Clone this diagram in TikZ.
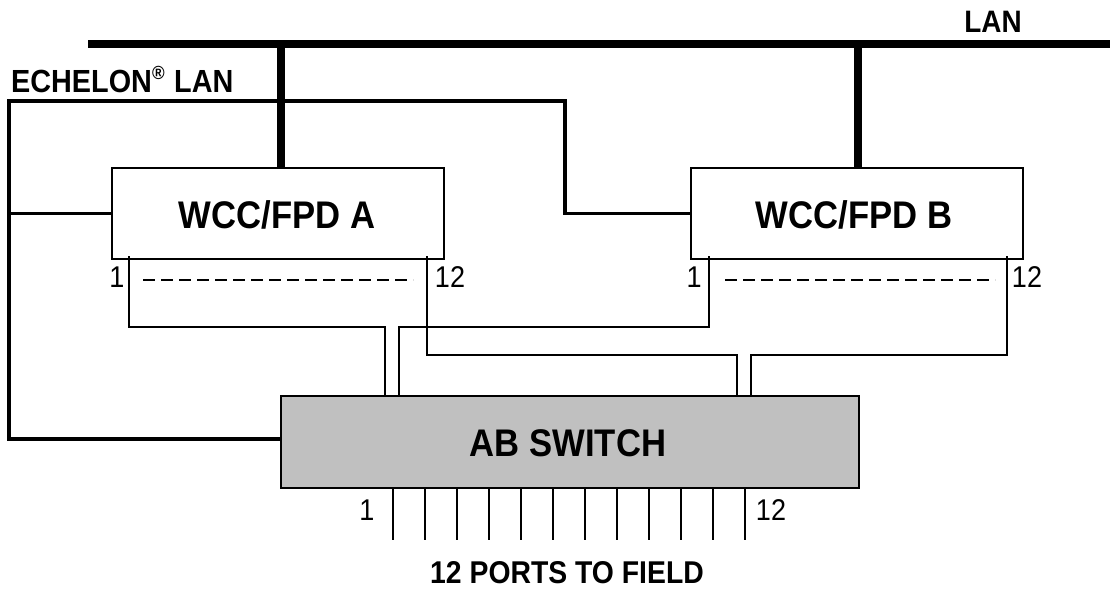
\documentclass[tikz,border=0pt]{standalone}
\usepackage{fontspec}
\setmainfont{Liberation Sans}[FakeStretch=0.9]
\definecolor{swgray}{HTML}{C0C0C0}
\begin{document}
\begin{tikzpicture}[x=1pt,y=-1pt,
  box/.style={draw,line width=2.5pt,rectangle,inner sep=0pt},
  lan/.style={line width=8pt},
  ech/.style={line width=3.5pt},
  port/.style={line width=2pt},
  big/.style={font=\fontsize{38.5}{40}\selectfont\bfseries,anchor=base,inner sep=0pt},
  med/.style={font=\fontsize{31}{32}\selectfont\bfseries,anchor=base,inner sep=0pt},
  num/.style={font=\fontsize{30}{32}\selectfont,anchor=base,inner sep=0pt}]
\useasboundingbox (0,0) rectangle (1110,589);
% boxes
\node[box,minimum width=332pt,minimum height=91pt] (boxA) at (278,213.5) {};
\node[box,minimum width=332pt,minimum height=91pt] (boxB) at (857,213.5) {};
\node[box,fill=swgray,minimum width=578pt,minimum height=92pt] (sw) at (570,442) {};
\node[big] (tA) at (277,228) {WCC/FPD A};
\node[big] (tB) at (854,228) {WCC/FPD B};
\node[big] (tS) at (568,456) {AB SWITCH};
% LAN bus
\coordinate (busL) at (88,44);
\coordinate (busR) at (1110,44);
\coordinate (tapA) at (281,44);
\coordinate (tapB) at (858,44);
\draw[lan] (busL) -- (busR);
\draw[lan] (tapA) -- (tapA |- boxA.north);
\draw[lan] (tapB) -- (tapB |- boxB.north);
\node[med] (lanlbl) at (993,32) {LAN};
% Echelon LAN
\node[med,anchor=base west,font=\fontsize{32}{33}\selectfont\bfseries] (echlbl) at (11,92) {ECHELON\raisebox{0.4em}{\fontsize{19}{19}\selectfont\bfseries ®}\hspace{0.3em}LAN};
\coordinate (eTop) at (9,101);
\draw[ech,line join=miter] (boxB.west) -| (565,101) -| (9,439) -- (sw.west |- 0,439);
\draw[ech] (boxA.west) -- (boxA.west -| eTop);
% port wiring
\coordinate (pA1) at (129,256);
\coordinate (pA12) at (427,256);
\coordinate (pB1) at (709,256);
\coordinate (pB12) at (1007,256);
\draw[port,line join=miter] (pA1) |- (385,327) -- (385,396);
\draw[port,line join=miter] (pA12) |- (737,355) -- (737,396);
\draw[port,line join=miter] (pB1) |- (399,327) -- (399,396);
\draw[port,line join=miter] (pB12) |- (751,355) -- (751,396);
% labels near WCC ports
\node[num] (nA1) at (117,287) {1};
\node[num] (nA12) at (450,287) {12};
\node[num] (nB1) at (694,287) {1};
\node[num] (nB12) at (1027,287) {12};
\draw[port,dash pattern=on 12pt off 6pt] (143,280) -- (413,280);
\draw[port,dash pattern=on 12pt off 6pt] (725,280) -- (995,280);
% field ports
\foreach \i in {0,...,11} {
  \draw[port] (393+32*\i,488) -- (393+32*\i,540);
}
\node[num] (f1) at (367,520) {1};
\node[num] (f12) at (771,520) {12};
\node[font=\fontsize{31.5}{33}\selectfont\bfseries,anchor=base,inner sep=0pt] (fld) at (567,583) {12 PORTS TO FIELD};
\end{tikzpicture}
\end{document}
